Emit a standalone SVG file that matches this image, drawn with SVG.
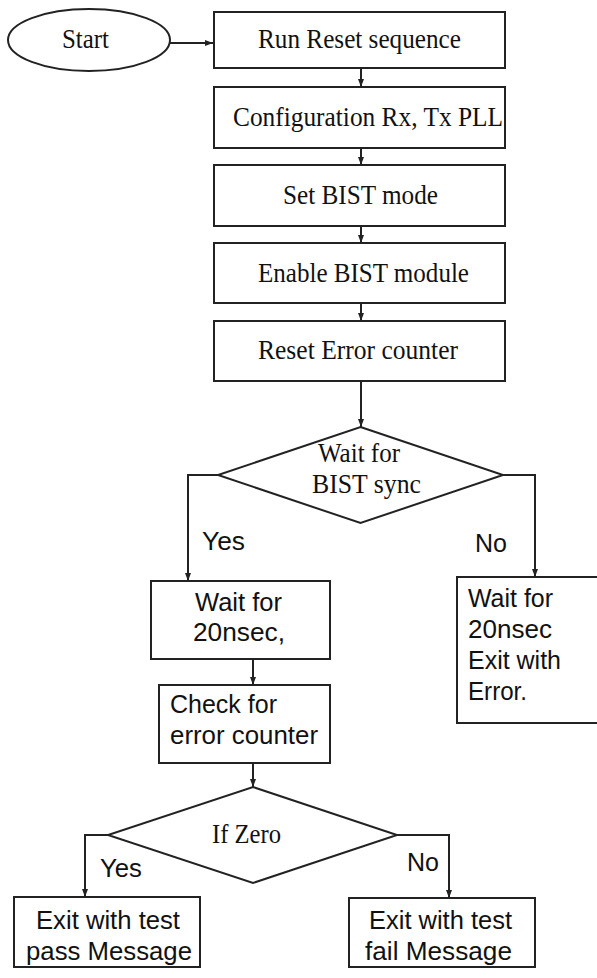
<svg xmlns="http://www.w3.org/2000/svg" width="597" height="978" viewBox="0 0 597 978">
<style>
.s{fill:#fff;stroke:#222;stroke-width:2}
.c{fill:none;stroke:#222;stroke-width:2}
.t{font-family:"Liberation Serif","Times New Roman",serif;font-size:28px;fill:#111}
.a{font-family:"Liberation Sans",Arial,sans-serif;font-size:25px;fill:#111}
</style>
<defs>
<marker id="ah" markerUnits="userSpaceOnUse" markerWidth="8" markerHeight="8" viewBox="0 0 8 8" refX="8" refY="4" orient="auto">
<path d="M0,1 L8,4 L0,7 Z" fill="#222"/>
</marker>
</defs>
<g id="connectors">
<line class="c" x1="170" y1="43" x2="213" y2="43" marker-end="url(#ah)"/>
<line class="c" x1="361" y1="68" x2="361" y2="87" marker-end="url(#ah)"/>
<line class="c" x1="361" y1="148" x2="361" y2="165" marker-end="url(#ah)"/>
<line class="c" x1="361" y1="226" x2="361" y2="243" marker-end="url(#ah)"/>
<line class="c" x1="361" y1="303" x2="361" y2="321" marker-end="url(#ah)"/>
<line class="c" x1="361" y1="381" x2="361" y2="427" marker-end="url(#ah)"/>
<polyline class="c" points="218,475 188,475 188,581" marker-end="url(#ah)"/>
<polyline class="c" points="503,475 535,475 535,577" marker-end="url(#ah)"/>
<line class="c" x1="253" y1="659" x2="253" y2="685" marker-end="url(#ah)"/>
<line class="c" x1="253" y1="763" x2="253" y2="787" marker-end="url(#ah)"/>
<polyline class="c" points="108,835 85,835 85,897" marker-end="url(#ah)"/>
<polyline class="c" points="397,835 449,835 449,898" marker-end="url(#ah)"/>
<text class="a" x="202" y="550" textLength="43" lengthAdjust="spacingAndGlyphs">Yes</text>
<text class="a" x="475" y="552" textLength="32" lengthAdjust="spacingAndGlyphs">No</text>
<text class="a" x="100" y="877" textLength="42" lengthAdjust="spacingAndGlyphs">Yes</text>
<text class="a" x="407" y="871" textLength="32" lengthAdjust="spacingAndGlyphs">No</text>
</g>
<g id="start">
<ellipse class="s" cx="89" cy="40" rx="81" ry="31"/>
<text class="t" x="62" y="48" textLength="47" lengthAdjust="spacingAndGlyphs">Start</text>
</g>
<g id="reset-seq">
<rect class="s" x="214" y="12" width="291" height="56"/>
<text class="t" x="258" y="48" textLength="203" lengthAdjust="spacingAndGlyphs">Run Reset sequence</text>
</g>
<g id="config">
<rect class="s" x="214" y="87" width="291" height="61"/>
<text class="t" x="233" y="126" textLength="270" lengthAdjust="spacingAndGlyphs">Configuration Rx, Tx PLL</text>
</g>
<g id="set-bist">
<rect class="s" x="214" y="165" width="291" height="61"/>
<text class="t" x="283" y="204" textLength="155" lengthAdjust="spacingAndGlyphs">Set BIST mode</text>
</g>
<g id="enable-bist">
<rect class="s" x="214" y="243" width="291" height="60"/>
<text class="t" x="258" y="282" textLength="211" lengthAdjust="spacingAndGlyphs">Enable BIST module</text>
</g>
<g id="reset-err">
<rect class="s" x="214" y="321" width="291" height="60"/>
<text class="t" x="258" y="359" textLength="200" lengthAdjust="spacingAndGlyphs">Reset Error counter</text>
</g>
<g id="wait-sync">
<polygon class="s" points="360.5,427 503,475 360.5,523 218,475"/>
<text class="t" x="318" y="462" textLength="82" lengthAdjust="spacingAndGlyphs">Wait for</text>
<text class="t" x="312" y="493" textLength="109" lengthAdjust="spacingAndGlyphs">BIST sync</text>
</g>
<g id="wait-20">
<rect class="s" x="151" y="581" width="179" height="78"/>
<text class="a" x="195" y="611" textLength="87" lengthAdjust="spacingAndGlyphs">Wait for</text>
<text class="a" x="193" y="641" textLength="92" lengthAdjust="spacingAndGlyphs">20nsec,</text>
</g>
<g id="wait-error">
<rect class="s" x="457" y="577" width="160" height="146"/>
<text class="a" x="468" y="607" textLength="85" lengthAdjust="spacingAndGlyphs">Wait for</text>
<text class="a" x="468" y="638" textLength="84" lengthAdjust="spacingAndGlyphs">20nsec</text>
<text class="a" x="468" y="669" textLength="93" lengthAdjust="spacingAndGlyphs">Exit with</text>
<text class="a" x="468" y="700" textLength="59" lengthAdjust="spacingAndGlyphs">Error.</text>
</g>
<g id="check">
<rect class="s" x="159" y="685" width="171" height="78"/>
<text class="a" x="170" y="713" textLength="107" lengthAdjust="spacingAndGlyphs">Check for</text>
<text class="a" x="170" y="744" textLength="148" lengthAdjust="spacingAndGlyphs">error counter</text>
</g>
<g id="if-zero">
<polygon class="s" points="253,787 397,835 253,883 108,835"/>
<text class="t" x="212" y="843" textLength="69" lengthAdjust="spacingAndGlyphs">If Zero</text>
</g>
<g id="pass">
<rect class="s" x="14" y="897" width="186" height="70"/>
<text class="a" x="36" y="929" textLength="144" lengthAdjust="spacingAndGlyphs">Exit with test</text>
<text class="a" x="26" y="960" textLength="166" lengthAdjust="spacingAndGlyphs">pass Message</text>
</g>
<g id="fail">
<rect class="s" x="349" y="898" width="186" height="69"/>
<text class="a" x="369" y="929" textLength="143" lengthAdjust="spacingAndGlyphs">Exit with test</text>
<text class="a" x="365" y="960" textLength="147" lengthAdjust="spacingAndGlyphs">fail Message</text>
</g>
</svg>
